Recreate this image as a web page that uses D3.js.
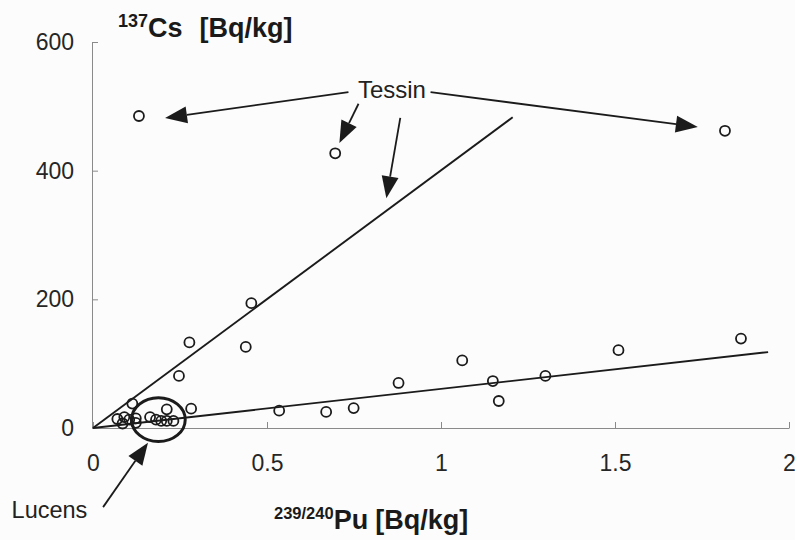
<!DOCTYPE html>
<html>
<head>
<meta charset="utf-8">
<script src="https://cdn.jsdelivr.net/npm/d3@7"></script>
<style>
  html, body { margin: 0; padding: 0; background: #fcfcfc; }
  svg { display: block; font-family: Arial, "Liberation Sans", sans-serif; }
</style>
</head>
<body>
<svg id="chart" width="795" height="540"></svg>
<script>
// 239/240Pu vs 137Cs activity in soil samples (Bq/kg)
const tessinPu = [0.132, 0.696, 1.816];
const tessinCs = [485, 427, 462];

const otherPu = [0.455, 0.277, 0.439, 0.247, 0.282, 0.535, 0.670, 0.749, 0.878,
                 1.061, 1.149, 1.166, 1.300, 1.510, 1.862];
const otherCs = [194, 133, 126, 81, 30, 27, 25, 31, 70,
                 105, 73, 42, 81, 121, 139];

const lucensPu = [0.070, 0.085, 0.090, 0.104, 0.113, 0.123, 0.123, 0.164, 0.181, 0.196, 0.212, 0.212, 0.231];
const lucensCs = [14, 7, 17, 13, 38, 15, 8, 17, 13, 11, 29, 11, 11];

// Two proportional trends drawn from the origin
const trendEndPu = [1.206, 1.94];
const trendEndCs = [483, 118];

const xTicks = [0, 0.5, 1, 1.5, 2];
const xTickLabels = ["0", "0.5", "1", "1.5", "2"];
const yTicks = [0, 200, 400, 600];
const yTickLabels = ["0", "200", "400", "600"];

// Annotation anchors in data units
const tessinLabel = { pu: 0.859, cs: 525, text: "Tessin" };
const tessinArrowFrom = [[0.734, 522], [0.763, 504], [0.883, 482], [0.970, 522]];
const tessinArrowTo   = [[0.207, 482], [0.708, 443], [0.843, 357], [1.738, 468]];
const lucensLabel = { pu: -0.234, cs: -140, text: "Lucens" };
const lucensArrow = [[0.029, -123], [0.158, -23]];
const lucensRing = { pu: 0.188, cs: 13, rpu: 0.077, rcs: 34 };

const svg = d3.select("#chart");
const ink = "#1b1b1b";

const x = d3.scaleLinear().domain([0, 2]).range([93, 789]);
const y = d3.scaleLinear().domain([0, 600]).range([428, 42]);

// Axes
const xAxis = d3.axisBottom(x).tickValues(xTicks)
  .tickFormat((d, i) => xTickLabels[i])
  .tickSizeInner(-6).tickSizeOuter(0).tickPadding(27);
const yAxis = d3.axisLeft(y).tickValues(yTicks)
  .tickFormat((d, i) => yTickLabels[i])
  .tickSizeInner(-6).tickSizeOuter(0).tickPadding(18);

const gx = svg.append("g").attr("transform", `translate(0,${y(0)})`).call(xAxis);
const gy = svg.append("g").attr("transform", `translate(${x(0) - 1},0)`).call(yAxis);
[gx, gy].forEach(g => {
  g.select(".domain").attr("stroke", "#8a8a8a").attr("stroke-width", 1);
  g.selectAll(".tick line").attr("stroke", "#8a8a8a").attr("stroke-width", 1);
  g.selectAll(".tick text").attr("fill", "#262626").attr("font-size", 23)
    .attr("font-family", "Arial, 'Liberation Sans', sans-serif");
});

// Trend lines
svg.append("g").selectAll("line").data(trendEndPu).join("line")
  .attr("x1", x(0)).attr("y1", y(0))
  .attr("x2", d => x(d)).attr("y2", (d, i) => y(trendEndCs[i]))
  .attr("stroke", ink).attr("stroke-width", 1.9);

// Data points
const pts = [];
tessinPu.forEach((p, i) => pts.push([p, tessinCs[i]]));
otherPu.forEach((p, i) => pts.push([p, otherCs[i]]));
lucensPu.forEach((p, i) => pts.push([p, lucensCs[i]]));
svg.append("g").selectAll("circle").data(pts).join("circle")
  .attr("cx", d => x(d[0])).attr("cy", d => y(d[1])).attr("r", 5)
  .attr("fill", "none").attr("stroke", ink).attr("stroke-width", 1.8);

// Lucens ring
svg.append("ellipse")
  .attr("cx", x(lucensRing.pu)).attr("cy", y(lucensRing.cs))
  .attr("rx", x(lucensRing.rpu) - x(0)).attr("ry", y(0) - y(lucensRing.rcs))
  .attr("fill", "none").attr("stroke", ink).attr("stroke-width", 3);

// Arrows with filled triangular heads
function arrow(from, to) {
  const x1 = x(from[0]), y1 = y(from[1]), x2 = x(to[0]), y2 = y(to[1]);
  const ang = Math.atan2(y2 - y1, x2 - x1);
  const len = 22, half = 8.5;
  const bx = x2 - len * Math.cos(ang), by = y2 - len * Math.sin(ang);
  svg.append("line").attr("x1", x1).attr("y1", y1).attr("x2", bx).attr("y2", by)
    .attr("stroke", ink).attr("stroke-width", 1.8);
  const nx = -Math.sin(ang) * half, ny = Math.cos(ang) * half;
  svg.append("path")
    .attr("d", `M${x2},${y2}L${bx + nx},${by + ny}L${bx - nx},${by - ny}Z`)
    .attr("fill", ink);
}
tessinArrowFrom.forEach((f, i) => arrow(f, tessinArrowTo[i]));
arrow(lucensArrow[0], lucensArrow[1]);

// Annotation labels
svg.append("text").attr("x", x(tessinLabel.pu)).attr("y", y(tessinLabel.cs) + 8)
  .attr("text-anchor", "middle").attr("font-size", 24).attr("fill", "#222")
  .text(tessinLabel.text);
svg.append("text").attr("x", x(lucensLabel.pu)).attr("y", y(lucensLabel.cs))
  .attr("font-size", 23.5).attr("fill", "#222")
  .text(lucensLabel.text);

// Axis titles with superscript isotope numbers
function isotopeTitle(px, py, mass, sym, unit, gap, supSize) {
  const t = svg.append("text").attr("x", px).attr("y", py)
    .attr("font-weight", "bold").attr("fill", "#1a1a1a");
  t.append("tspan").attr("font-size", supSize).attr("dy", -10).text(mass);
  t.append("tspan").attr("font-size", 27).attr("dy", 10).text(sym);
  t.append("tspan").attr("font-size", 27).attr("dx", gap).text(unit);
}
isotopeTitle(118, 37, "137", "Cs", "[Bq/kg]", 17, 18);
isotopeTitle(274, 529, "239/240", "Pu", "[Bq/kg]", 7, 16.5);
</script>
</body>
</html>
